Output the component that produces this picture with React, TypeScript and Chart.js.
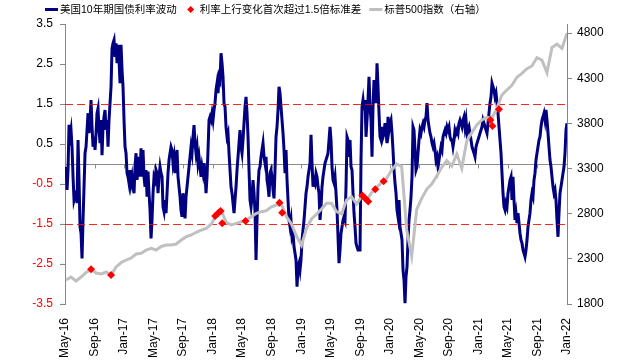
import React, { useEffect, useRef } from "react";
import { Chart, registerables } from "chart.js";

Chart.register(...registerables);

// ---------- texts ----------
const LABEL_RATE = "美国10年期国债利率波动";
const LABEL_SIGNAL = "利率上行变化首次超过1.5倍标准差";
const LABEL_SPX = "标普500指数（右轴）";

// ---------- axes (x in months since May 2016) ----------
const X_TICK_MONTHS = [0, 4, 8, 12, 16, 20, 24, 28, 32, 36, 40, 44, 48, 52, 56, 60, 64, 68];
const X_TICK_LABELS = [
  "May-16", "Sep-16", "Jan-17", "May-17", "Sep-17", "Jan-18", "May-18", "Sep-18", "Jan-19",
  "May-19", "Sep-19", "Jan-20", "May-20", "Sep-20", "Jan-21", "May-21", "Sep-21", "Jan-22",
];
const LEFT_TICKS = [-3.5, -2.5, -1.5, -0.5, 0.5, 1.5, 2.5, 3.5];
const RIGHT_TICKS = [1800, 2300, 2800, 3300, 3800, 4300, 4800];
const BAND = 1.5;

// ---------- rate volatility series (evenly sampled, May-16 .. Jan-22) ----------
const RATE_PART_1 = [
  -0.07, -0.65, -0.15, 0.98, 0.68, 0.85, 0.43, -0.32, -0.9, -0.8,
  -0.73, -0.98, 0.6, -0.4, -1.57, -1.73, -2.36, -1.4, -0.57, 0.27,
  0.43, 0.85, 1.27, 0.77, 1.1, 1.6,
  0.93, 0.43, 0.68, 0.35, 0.77, 1.27, 1.39, 0.85, 0.52, 1.1,
  0.22, 0.93, 1.18, 1.35, 0.85, 1.1, 0.43, 1.1, 1.52, 1.93,
  2.89, 3.02, 3.1, 2.68, 3.02, 2.52, 2.98, 2.6, 2.02, 2.98,
  2.35, 1.93, 1.1, 0.43, 0.27, -0.23, -0.32, -0.48, -0.15, -0.48,
  -0.32, -0.57, -0.73, -0.07, 0.27, -0.4, -0.07, 0.18, -0.32, 0.39,
  -0.32, 0.35, -0.32, -0.57, -0.15, -0.82, -0.19, -0.73, -1.15,
  -1.86, -1.4, -0.73, -0.32, -0.4, -0.15, -0.23, -0.73, -0.32, -0.07,
  -0.23, -0.32, -1.07, -1.19, -0.9,
];
const RATE_PART_2 = [
  -1.23, -0.73, -0.23, 0.1, 0.27, 0.43, 0.35, 0.02, 0.18, -0.23,
  0.1, 0.35, -0.32, -0.57, -0.82, -1.15, -1.32, -0.73, -1.07, -1.36,
  -0.82, -0.57, -0.32, -0.07, 0.18, 0.43, 0.27, 0.68, 0.97, 0.52,
  0.27, 0.43, 0.02, 0.18, -0.07, -0.32, -0.07, -0.23, 0.02, -0.23,
  -0.73, -0.32, 0.35, 1.1, 1.18, 1.1, 1.27, 1.1, 1.35, 1.52,
  1.85, 2.02, 1.77, 2.18, 2.1, 2.77, 2.52, 2.18, 1.52, 1.43,
  0.93, 0.68, 0.77, 0.27, -0.15, -0.57, -0.73, -0.98, -1.23, -0.9,
  -0.57, -0.15, 0.18, 0.52, 0.85, 0.43, 0.27, 0.6, 1.02, 1.43,
  1.68, 1.27, 0.68, -0.15, -0.9, -1.07, -0.82, -0.4, -0.73, -1.19,
  -2.4, -1.4, -0.57, -0.15, -0.07, 0.18, 0.35, 0.52, 0.18, 0.02,
];
const RATE_PART_3 = [
  0.18, -0.4, -0.57, -0.82, -0.23, -0.15, -0.32, -0.65, -0.86, -0.15,
  0.68, 0.93, 1.35, 1.93, 1.77, 1.43, 1.1, 0.77, 0.35, -0.23,
  0.35, -0.4, -0.9, -1.4, -1.57, -1.4, -1.82, -1.73, -2.07, -2.23,
  -2.4, -3.07, -2.57, -2.48, -2.65, -2.4, -1.9, -1.65, -1.4, -1.07,
  -0.73, -0.57, -0.32, -0.15, 0.02, 0.73, 0.02, -0.57, -0.4, -0.48,
  -0.23, -0.32, -0.57, -0.73, -1.4, -1.07, -0.57, -0.32, -0.15, 0.02,
  0.1, 0.18, 0.27, 0.6, 0.93, 0.6, -0.07, -0.4, -0.48, -0.32,
  -0.73, -1.15, -1.82, -2.48, -2.15, -1.73, -1.57, -1.4, -1.32, -1.4,
  -0.57, 0.68, 0.6, 0.18, 0.6, -0.07, -0.15, -0.73, -1.23, -1.57,
  -1.98, -2.07, -2.15, -2.15, -2.15, 0.1, 1.43, 1.6, 1.35,
];
const RATE_PART_4 = [
  1.6, 0.68, 1.1, 1.6, 2.18, 1.43, 1.1, 0.18, 1.43, 2.1,
  1.93, 1.52, 2.52, 1.93, 1.27, 0.68, 0.6, 0.93, 0.68, 0.77,
  1.02, 0.77, 0.52, 1.18, 0.85, 1.02, 1.1, 0.77, 0.35, -0.15,
  -0.48, -0.73, -1.15, -1.32, -0.9, -1.57, -1.73, -1.9, -2.65, -2.9,
  -3.48, -2.82, -2.57, -1.9, -1.4, -1.15, -0.82, -0.32, 0.93, 0.85,
  0.35, -0.15, -0.07, 0.27, 0.6, 0.85, 0.77, 0.93, 1.02, 0.93,
  1.1, 1.18, 1.52, 1.1, 0.93, 0.77, 0.68, 0.52, 0.43, 0.52,
  0.35, 0.1, 0.18, -0.07, 0.1, 0.27, 0.43, 0.35, 0.68, 0.77,
  0.85, 0.77, 0.93, 0.85, 0.93, 0.68, 0.6, 0.6, 0.43, 0.6,
  0.85, 0.77, 0.85, 0.77, 1.02, 1.1, 1.02, 0.93, 1.1, 1.18,
];
const RATE_PART_5 = [
  0.93, 1.1, 0.77, 0.85, 0.93, 0.77, 0.6, 0.43, 0.35, 0.27,
  0.18, 0.43, 0.52, 0.6, 0.68, 0.77, 0.85, 0.93, 1.1, 1.02,
  0.93, 0.85, 0.77, 1.02, 1.27, 1.52, 1.68, 2.02, 1.93, 1.85,
  1.68, 1.77, 1.52, 1.27, 0.93, 0.6, 0.27, -0.23, -0.73, -1.07,
  -1.15, -0.98, -1.07, -0.73, -0.57, -0.4, -0.32, -0.9, -0.32, -0.9,
  -1.4, -1.23, -1.48, -1.23, -1.48, -1.73, -1.9, -1.98, -2.15, -2.23,
  -2.32, -2.15, -1.9, -1.57, -1.4, -1.23, -0.9, -0.73, -0.82, -0.4,
  -0.23, 0.1, 0.27, 0.43, 0.6, 0.68, 0.93, 1.1, 1.18, 1.27,
  1.1, 1.35, 1.1, 0.77, 0.43, 0.1, -0.07, -0.32, -0.57, -0.73,
  -0.65, -0.9, -1.4, -1.82, -1.23, -0.73, -0.57, -0.4, -0.23, -0.07,
  0.27, 0.85, 1.02,
];
const RATE_FIRST_MONTH = 0.14;
const RATE_LAST_MONTH = 68;

// ---------- S&P 500 (right axis, evenly sampled) ----------
const SPX_PART_1 = [
  2066, 2099, 2055, 2099, 2149, 2184, 2143, 2132, 2154, 2121,
  2210, 2259, 2287, 2309, 2353, 2361, 2398, 2417, 2398, 2437,
  2453, 2453, 2464, 2508, 2545, 2564, 2594, 2619, 2638, 2686,
];
const SPX_PART_2 = [
  2785, 2830, 2700, 2675, 2693, 2711, 2730, 2767, 2804, 2822,
  2833, 2877, 2896, 2900, 2767, 2686, 2553, 2450, 2638, 2741,
  2793, 2852, 2915, 2915, 2822, 2796, 2951, 2988, 2907, 2990,
];
const SPX_PART_3 = [
  2951, 3032, 3092, 3143, 3191, 3283, 3350, 3320, 2620, 2330,
  2848, 2970, 3070, 3128, 3217, 3313, 3387, 3328, 3460, 3302,
  3608, 3697, 3782, 3837, 3867, 3856, 3966, 4114, 4169, 4221,
  4310, 4354, 4405, 4435, 4527, 4500, 4360, 4641, 4678, 4630,
  4797,
];
const SPX_FIRST_MONTH = 0.14;
const SPX_LAST_MONTH = 68;

// ---------- signal points (first breach of 1.5 s.d.) ----------
const SIGNAL_MONTHS = [3.53, 6.24, 20.34, 20.79, 21.08, 21.29, 24.45, 29.06, 29.42, 40.27, 40.68, 41.08, 42.03, 43.16, 57.63, 57.9, 58.78];
const SIGNAL_SPX = [2184, 2121, 2774, 2811, 2830, 2693, 2719, 2921, 2811, 3001, 2968, 2935, 3070, 3158, 3837, 3770, 3955];

// ---------- styles ----------
const RATE_COLOR = "#000080";
const SPX_COLOR = "#C0C0C0";
const SIGNAL_COLOR = "#FF0000";
const AXIS_GRAY = "#868686";
const FONT_FAMILY = '"Liberation Sans", Arial, "Noto Sans CJK SC", sans-serif';

function evenSeries(values: number[], first: number, last: number) {
  const n = values.length;
  return values.map((v, i) => ({ x: first + (i * (last - first)) / (n - 1), y: v }));
}

const overlayPlugin = {
  id: "overlay",
  beforeDatasetsDraw(chart: any) {
    const { ctx, chartArea, scales } = chart;
    const y0 = Math.round(scales.y.getPixelForValue(0)) + 0.5;
    ctx.save();
    ctx.strokeStyle = "#8C8C8C";
    ctx.lineWidth = 1;
    ctx.beginPath();
    ctx.moveTo(chartArea.left, y0);
    ctx.lineTo(chartArea.right, y0);
    for (const m of X_TICK_MONTHS) {
      const x = Math.round(scales.x.getPixelForValue(m)) + 0.5;
      ctx.moveTo(x, y0);
      ctx.lineTo(x, y0 + 4);
    }
    ctx.stroke();
    ctx.restore();
  },
  afterDatasetDraw(chart: any, args: any) {
    if (args.index !== 0) return;
    const { ctx, chartArea, scales } = chart;
    ctx.save();
    ctx.strokeStyle = "rgba(255,0,0,0.85)";
    ctx.lineWidth = 1.2;
    ctx.setLineDash([8, 4]);
    for (const b of [BAND, -BAND]) {
      const y = Math.round(scales.y.getPixelForValue(b)) + 0.5;
      ctx.beginPath();
      ctx.moveTo(chartArea.left, y);
      ctx.lineTo(chartArea.right, y);
      ctx.stroke();
    }
    ctx.restore();
  },
  afterDraw(chart: any) {
    const ctx = chart.ctx;
    ctx.save();
    ctx.font = `10.5px ${FONT_FAMILY}`;
    ctx.textBaseline = "middle";
    ctx.fillStyle = "#000";
    const ty = 10;
    const sy = 9.5;
    let x = 45;
    // item 1
    ctx.strokeStyle = RATE_COLOR;
    ctx.lineWidth = 3;
    ctx.beginPath();
    ctx.moveTo(x, sy);
    ctx.lineTo(x + 13, sy);
    ctx.stroke();
    x += 15;
    ctx.fillText(LABEL_RATE, x, ty);
    x += ctx.measureText(LABEL_RATE).width + 14;
    // item 2
    ctx.fillStyle = SIGNAL_COLOR;
    ctx.beginPath();
    ctx.moveTo(x - 3.5, sy);
    ctx.lineTo(x, sy - 3.5);
    ctx.lineTo(x + 3.5, sy);
    ctx.lineTo(x, sy + 3.5);
    ctx.closePath();
    ctx.fill();
    x += 9;
    ctx.fillStyle = "#000";
    ctx.fillText(LABEL_SIGNAL, x, ty);
    x += ctx.measureText(LABEL_SIGNAL).width + 8;
    // item 3
    ctx.strokeStyle = SPX_COLOR;
    ctx.lineWidth = 3;
    ctx.beginPath();
    ctx.moveTo(x, sy);
    ctx.lineTo(x + 13, sy);
    ctx.stroke();
    x += 15;
    ctx.fillText(LABEL_SPX, x, ty);
    ctx.restore();
  },
};

export default function App() {
  const canvasRef = useRef<HTMLCanvasElement | null>(null);

  useEffect(() => {
    const canvas = canvasRef.current;
    if (!canvas) return;
    Chart.defaults.font.family = FONT_FAMILY;
    const rateValues = [...RATE_PART_1, ...RATE_PART_2, ...RATE_PART_3, ...RATE_PART_4, ...RATE_PART_5];
    const spxValues = [...SPX_PART_1, ...SPX_PART_2, ...SPX_PART_3];

    const chart = new Chart(canvas, {
      type: "line",
      data: {
        datasets: [
          {
            label: LABEL_RATE,
            data: evenSeries(rateValues, RATE_FIRST_MONTH, RATE_LAST_MONTH),
            borderColor: RATE_COLOR,
            borderWidth: 3,
            pointRadius: 0,
            tension: 0,
            yAxisID: "y",
            order: 3,
          },
          {
            label: LABEL_SIGNAL,
            data: SIGNAL_MONTHS.map((m, i) => ({ x: m, y: SIGNAL_SPX[i] })),
            showLine: false,
            pointStyle: "rectRot",
            pointRadius: 4,
            pointBorderWidth: 0,
            backgroundColor: SIGNAL_COLOR,
            borderColor: SIGNAL_COLOR,
            yAxisID: "y1",
            order: 1,
          },
          {
            label: LABEL_SPX,
            data: evenSeries(spxValues, SPX_FIRST_MONTH, SPX_LAST_MONTH),
            borderColor: SPX_COLOR,
            borderWidth: 3,
            pointRadius: 0,
            tension: 0,
            yAxisID: "y1",
            order: 2,
          },
        ],
      },
      options: {
        responsive: false,
        animation: false,
        devicePixelRatio: 1,
        events: [],
        layout: { padding: { top: 24, left: 0, right: 0, bottom: 0 } },
        plugins: { legend: { display: false }, tooltip: { enabled: false } },
        scales: {
          x: {
            type: "linear",
            min: 0,
            max: 68,
            grid: { display: false },
            border: { display: false },
            afterBuildTicks: (s: any) => {
              s.ticks = X_TICK_MONTHS.map((v) => ({ value: v }));
            },
            afterFit: (s: any) => {
              s.height = 58;
            },
            ticks: {
              autoSkip: false,
              maxRotation: 90,
              minRotation: 90,
              padding: 6,
              color: "#000",
              font: { size: 12 },
              callback: (_v: any, i: number) => X_TICK_LABELS[i],
            },
          },
          y: {
            type: "linear",
            position: "left",
            min: -3.5,
            max: 3.5,
            afterBuildTicks: (s: any) => {
              s.ticks = LEFT_TICKS.map((v) => ({ value: v }));
            },
            afterFit: (s: any) => {
              s.width = 65;
            },
            grid: { drawOnChartArea: false, drawTicks: true, tickLength: 5, color: AXIS_GRAY },
            border: { display: true, color: AXIS_GRAY },
            ticks: {
              padding: 7,
              font: { size: 12 },
              color: (c: any) => (c.tick && c.tick.value < 0 ? "#FF0000" : "#000000"),
              callback: (v: any) => Number(v).toFixed(1),
            },
          },
          y1: {
            type: "linear",
            position: "right",
            min: 1800,
            max: 4900,
            afterBuildTicks: (s: any) => {
              s.ticks = RIGHT_TICKS.map((v) => ({ value: v }));
            },
            afterFit: (s: any) => {
              s.width = 62;
            },
            grid: { drawOnChartArea: false, drawTicks: true, tickLength: 5, color: AXIS_GRAY },
            border: { display: true, color: AXIS_GRAY },
            ticks: {
              padding: 5,
              font: { size: 12 },
              color: "#000",
              callback: (v: any) => String(v),
            },
          },
        },
      },
      plugins: [overlayPlugin],
    } as any);

    return () => chart.destroy();
  }, []);

  return (
    <div style={{ position: "fixed", left: 0, top: 0, width: 629, height: 362, background: "#fff" }}>
      <canvas ref={canvasRef} width={629} height={362} style={{ width: 629, height: 362, display: "block" }} />
    </div>
  );
}
